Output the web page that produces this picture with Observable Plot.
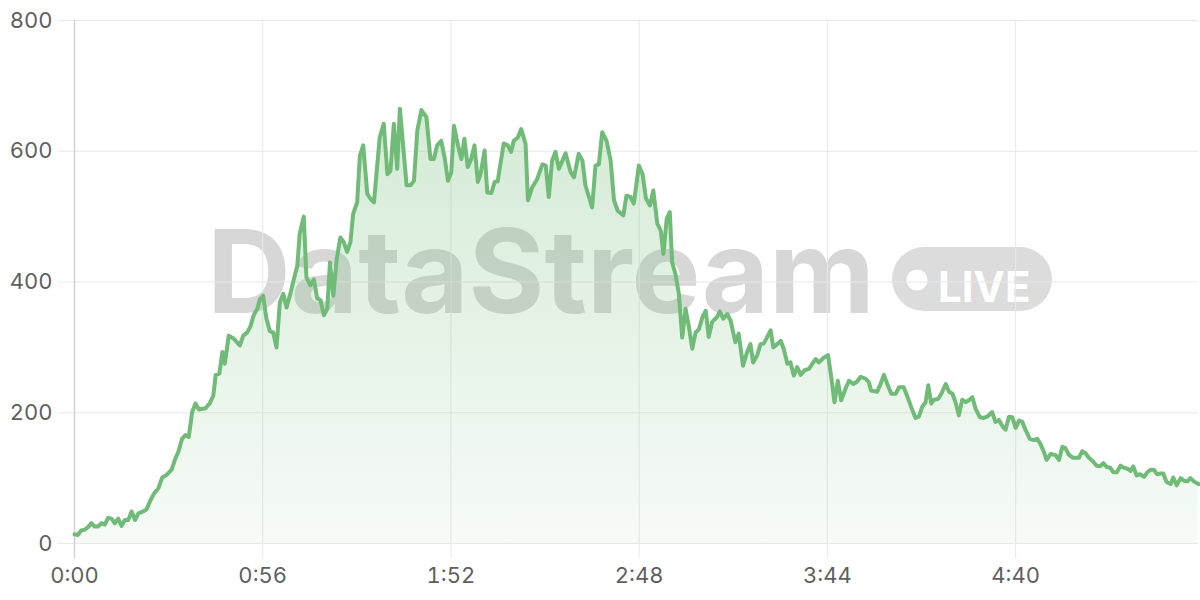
<!DOCTYPE html>
<html><head><meta charset="utf-8">
<script src="https://cdn.jsdelivr.net/npm/d3@7"></script>
<script src="https://cdn.jsdelivr.net/npm/@observablehq/plot@0.6"></script>
<style>
html,body{margin:0;padding:0;background:#fff;}
#chart{width:1200px;height:600px;}
</style></head><body><div id="chart"></div>
<script>
// elapsed time in seconds
const seconds = [0,1,2,3,4,5,6,7,8,9,10,11,12,13,14,15,16,17,18,19,20.4,21.4,22.6,23.6,24.9,26.1,27.4,28.9,29.8,31,32,33,34,35,36,37,38,39,40.3,41.3,42,43.1,44,44.7,45.9,47.2,49.2,50.2,51.4,52.4,53.3,54.4,55.1,56.1,57.1,58.1,59.1,60.1,61.1,62.1,63.1,64.3,65.2,66.3,67,68.2,69,70.2,71.2,72.2,73.2,74.2,75.2,76,77,78,79.1,80.1,81.1,82.1,82.9,84.1,84.9,85.9,87.1,88.1,89.1,90.8,92,93.1,94,95,96,96.8,98.8,100,101,102,103.2,104.7,105.9,106.9,107.9,109.1,110.1,111.1,112.1,112.9,114,115.1,116,117,118,119,120,120.8,122,122.8,124,125,125.9,127.7,128.9,129.9,130.7,131.9,132.9,134.2,134.9,136.2,137.7,139.2,140.2,141.1,142.1,143.1,144.1,146.1,147.6,148.6,150,151.1,152,154,155,156,157,158.3,159.5,160.5,161.6,163.3,164.2,165.4,166.4,167.9,169,170,171.2,172.2,173.4,174.4,175.2,176.2,177.1,177.8,178.8,179.8,180.8,181.8,182.8,183.8,184.8,185.8,186.8,187.8,188.7,189.7,191.1,192,193,194.2,195.2,196.6,197.6,198.9,200.1,201.1,201.9,203.1,204.1,205.1,206.1,207.1,207.9,209.1,210.1,211,212.1,213,214,215,216,217.2,218.5,219.5,220.5,221.4,222.9,224.2,225.2,226.1,227.1,228.1,229.4,230.4,231.7,232.7,233.9,235.4,236.3,237,238.8,239.8,240.8,241.8,243,244.3,245.3,246.7,247.7,248.9,250.2,251.2,252.2,253.2,254,254.9,255.7,256.9,257.9,259.2,260.2,261.2,262.1,263.1,264.1,265.1,266.1,267.1,268.1,269.4,270.5,271.5,273,274,275,276,277,278,279,280,281,282,283,284.2,285.4,286.4,287.4,288.4,289.2,290.4,291.9,292.9,293.9,294.8,295.8,297.1,298.8,299.8,300.8,301.8,302.8,304.1,305.1,306.1,307.1,308.1,309.1,310.1,311.2,312.2,313.4,314.2,315,316,317,318.2,319.2,320.2,321.1,322.1,323.1,323.9,324.9,326.1,326.9,327.9,329.1,330.1,331.1,332,333,334,334.4];
// live value
const values = [14,13,20,21,25,31,26,26,31,29,39,38,31,38,27,36,36,49,36,46,49,52,66,76,84,101,105,113,127,142,160,166,163,201,214,205,206,207,215,226,258,260,293,275,318,314,303,318,323,333,349,359,373,379,344,325,323,300,369,382,361,384,403,425,474,500,407,395,404,375,372,349,359,430,379,435,468,461,446,461,504,522,593,609,535,527,522,621,642,565,570,642,573,665,548,548,555,632,663,652,588,588,609,616,591,555,568,639,611,588,619,576,588,609,553,565,601,537,536,553,554,612,609,599,616,621,634,611,525,545,558,580,578,530,586,599,573,597,568,560,596,586,548,514,578,580,629,616,586,525,509,502,532,530,520,578,565,528,517,540,489,479,443,497,507,430,412,382,315,359,331,298,323,328,346,356,316,339,346,355,344,351,341,308,321,272,293,305,277,288,305,306,316,326,300,305,310,298,275,277,257,270,258,265,267,275,282,277,284,288,252,216,249,219,237,249,244,247,255,252,247,234,232,244,258,244,229,229,239,239,226,209,192,194,209,216,242,214,220,221,229,244,232,229,216,196,220,216,219,224,206,193,192,194,201,186,189,180,174,194,193,177,188,186,173,160,158,160,152,140,128,137,135,128,148,146,136,131,131,141,138,131,127,119,118,123,117,116,109,109,119,116,114,111,118,104,106,102,109,113,113,106,107,107,94,91,101,89,100,96,95,100,95,92,91];
const xTicks = [0,56,112,168,224,280];
const yTicks = [0,200,400,600,800];
const watermarkText = "DataStream";
const badgeText = "LIVE";

const data = seconds.map((t, i) => ({t, v: values[i]}));
const fmt = s => `${Math.floor(s / 60)}:${String(Math.round(s % 60)).padStart(2, "0")}`;
const FONT = "Inter, 'Noto Sans', sans-serif";
const GREEN = "rgb(112,187,119)";
const GRID = "#e8e8e8";

function backdrop(index, scales, vals, dims) {
  const ns = "http://www.w3.org/2000/svg";
  const el = (tag, attrs, parent) => {
    const e = document.createElementNS(ns, tag);
    for (const k in attrs) e.setAttribute(k, attrs[k]);
    if (parent) parent.appendChild(e);
    return e;
  };
  const g = el("g", {});
  const defs = el("defs", {}, g);
  const grad = el("linearGradient", {id: "areaGrad", x1: 0, y1: 0, x2: 0, y2: 1}, defs);
  el("stop", {offset: "0%", "stop-color": GREEN, "stop-opacity": 0.3}, grad);
  el("stop", {offset: "100%", "stop-color": GREEN, "stop-opacity": 0.06}, grad);
  const ml = dims.marginLeft, mt = dims.marginTop;
  const t = el("text", {x: ml + 467, y: mt + 293, "text-anchor": "middle", fill: "#d7d7d7",
    "font-family": FONT, "font-weight": 700, "font-size": 116}, g);
  t.textContent = watermarkText;
  el("rect", {x: ml + 818, y: mt + 227, width: 160, height: 64, rx: 32, fill: "#dcdcdc"}, g);
  el("circle", {cx: ml + 843, cy: mt + 260, r: 10.5, fill: "#fff"}, g);
  const l = el("text", {x: ml + 864, y: mt + 282, "text-anchor": "start", fill: "#fff",
    "font-family": FONT, "font-weight": 700, "font-size": 42}, g);
  l.textContent = badgeText;
  return g;
}

const chart = Plot.plot({
  width: 1200, height: 600,
  marginLeft: 74, marginRight: 2, marginTop: 20, marginBottom: 57,
  style: {fontFamily: FONT, fontSize: "22px", color: "#5f5f5f", background: "transparent", overflow: "visible"},
  x: {domain: d3.extent(seconds), label: null},
  y: {domain: [0, 800], label: null},
  marks: [
    backdrop,
    Plot.gridY(yTicks, {stroke: GRID, strokeOpacity: 1}),
    Plot.gridX(xTicks, {stroke: GRID, strokeOpacity: 1}),
    Plot.axisY(yTicks, {tickSize: 16, tickPadding: 6, stroke: GRID, fill: "#5f5f5f", fontSize: 22, label: null}),
    Plot.axisX(xTicks, {tickSize: 15, tickPadding: 9, stroke: GRID, fill: "#5f5f5f", fontSize: 22, tickFormat: fmt, label: null}),
    Plot.ruleX([0], {stroke: "#d2d2d2", strokeWidth: 1.5, y1: -23, y2: 800}),
    Plot.areaY(data, {x: "t", y: "v", fill: "url(#areaGrad)"}),
    Plot.lineY(data, {x: "t", y: "v", stroke: GREEN, strokeWidth: 4, strokeLinejoin: "round"})
  ]
});
document.getElementById("chart").appendChild(chart);
</script>
</body></html>
